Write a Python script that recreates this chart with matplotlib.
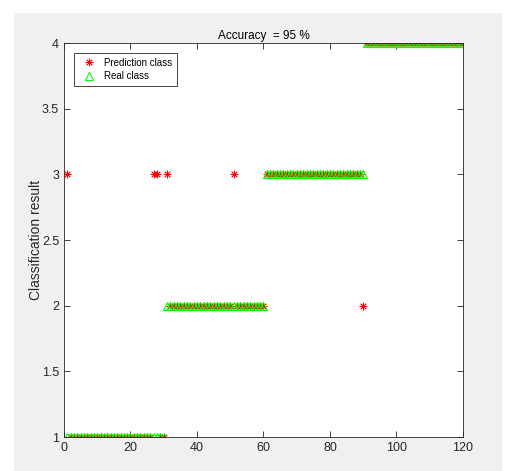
import numpy as np
import matplotlib.pyplot as plt
from matplotlib.patches import Rectangle

plt.rcParams['font.family'] = ['Liberation Sans', 'DejaVu Sans']

# [Data]____________________________________________________________
sample = np.arange(1, 121)
real_class = np.repeat([1, 2, 3, 4], 30)
pred_class = real_class.copy()
wrong_idx = [1, 27, 28, 31, 51, 90]
wrong_pred = [3, 3, 3, 3, 3, 2]
for i, c in zip(wrong_idx, wrong_pred):
  pred_class[i - 1] = c
accuracy = np.mean(pred_class == real_class) * 100

xticks = [0, 20, 40, 60, 80, 100, 120]
yticks = [1, 1.5, 2, 2.5, 3, 3.5, 4]

# [Plot]____________________________________________________________
fig = plt.figure(figsize=(5.06, 4.71), dpi=100)
fig.patch.set_facecolor("white")
fig.patches.append(Rectangle((14/506, 0), (502-14)/506, 1 - 13/471, transform=fig.transFigure,
                             facecolor="#f0f0f0", edgecolor="none", zorder=-10))
ax = fig.add_axes([64/506, 1 - 437/471, (463-64)/506, (437-43)/471])
ax.set_facecolor("white")

# MATLAB-like asterisk: 8 spokes
ax.plot(sample, pred_class, linestyle="none", marker=(8, 2, 0), color="red",
        markersize=5.5, markeredgewidth=0.6, label="Prediction class")
ax.plot(sample, real_class, "^", markerfacecolor="none", markeredgecolor=(0, 1, 0),
        markersize=6, markeredgewidth=0.8, label="Real class")

ax.set_xlim(0, 120)
ax.set_ylim(1, 4)
ax.set_xticks(xticks)
ax.set_yticks(yticks)
ax.set_yticklabels([f"{v:g}" for v in yticks])
ax.tick_params(direction="in", top=True, right=True, labelsize=9, colors="#262626", length=4, width=0.6)
for s in ax.spines.values():
  s.set_color("#262626")
  s.set_linewidth(0.6)
ax.set_ylabel("Classification result", fontsize=10, color="#262626", labelpad=0)
ax.yaxis.set_label_coords(-0.053, 0.5)
ax.set_title(f"Accuracy  = {accuracy:.0f} %", fontsize=8.5, color="black", pad=3)

leg = ax.legend(loc="upper left", fontsize=7, fancybox=False, framealpha=1, edgecolor="#262626",
                borderaxespad=1.0, borderpad=0.5, handlelength=2.1, handletextpad=0.5,
                labelspacing=0.35, numpoints=1)
leg.get_frame().set_linewidth(0.6)

plt.savefig("out.png", dpi=100)
